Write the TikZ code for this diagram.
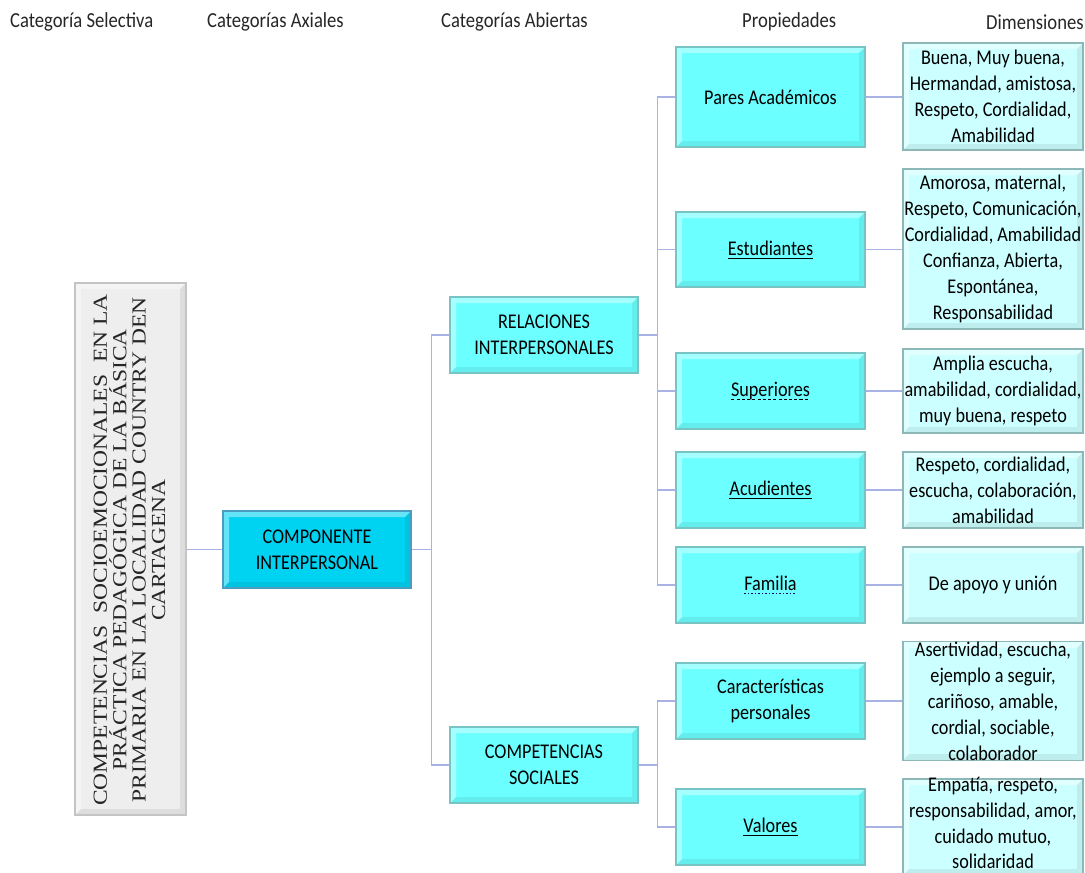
\documentclass[tikz,border=0pt]{standalone}
\usepackage{fontspec}
\newfontfamily\calib[FakeStretch=0.87]{Carlito}
\newfontfamily\tms[FakeStretch=1.18]{Liberation Serif}
\newcommand\myul[1]{\leavevmode\setbox0\hbox{#1}\rlap{\raisebox{-3.5pt}{\rule{\wd0}{0.9pt}}}\box0}
\newcommand\mydashul[1]{\leavevmode\setbox0\hbox{#1}\rlap{\raisebox{-3.5pt}{\hbox to \wd0{\xleaders\hbox to 5pt{\rule{3.2pt}{0.9pt}\hfil}\hfil}}}\box0}
\newcommand\mydotul[1]{\leavevmode\setbox0\hbox{#1}\rlap{\raisebox{-3.5pt}{\hbox to \wd0{\color{blue!50!black}\xleaders\hbox to 3.5pt{\rule{1.6pt}{1pt}\hfil}\hfil}}}\box0}
\definecolor{linec}{HTML}{A8B2E4}
\definecolor{cyanA}{HTML}{6CFFFF}
\definecolor{cyanB}{HTML}{CCFFFF}
\definecolor{compC}{HTML}{00D2F2}
\definecolor{grayC}{HTML}{EEEEEE}
\definecolor{bordA}{HTML}{78C4C4}
\definecolor{bordB}{HTML}{8EB8B8}
\definecolor{bordC}{HTML}{4A9CC0}
\definecolor{bordG}{HTML}{C4C4C4}
\tikzset{
  bev/.style={path picture={
    \fill[white,opacity=.4] (path picture bounding box.south west) -- (path picture bounding box.north west) -- (path picture bounding box.north east) -- ([shift={(-6,6)}]path picture bounding box.north east) -- ([shift={(6,6)}]path picture bounding box.north west) -- ([shift={(6,-6)}]path picture bounding box.south west) -- cycle;
    \fill[black,opacity=.07] (path picture bounding box.south west) -- (path picture bounding box.south east) -- (path picture bounding box.north east) -- ([shift={(-6,6)}]path picture bounding box.north east) -- ([shift={(-6,-6)}]path picture bounding box.south east) -- ([shift={(6,-6)}]path picture bounding box.south west) -- cycle;
  }},
  txt/.style={font=\calib\fontsize{21}{26}\selectfont, text=black, align=center, inner sep=0pt},
  prop/.style={txt, draw=bordA, fill=cyanA, line width=1.2pt, bev, minimum width=189bp, minimum height=76bp},
  dimbox/.style={txt, draw=bordB, fill=cyanB, line width=1.2pt, bev, minimum width=180bp},
  hdr/.style={font=\calib\fontsize{21.5}{26}\selectfont, text=black!85, anchor=west, inner sep=0pt},
  conn/.style={draw=linec, line width=1.5pt}
}
\begin{document}
\begin{tikzpicture}[x=1bp,y=-1bp]
\useasboundingbox (0,0) rectangle (1085,873);
% headers
\node[hdr] (h1) at (10,22) {Categoría Selectiva};
\node[hdr] (h2) at (207,22) {Categorías Axiales};
\node[hdr] (h3) at (441,22) {Categorías Abiertas};
\node[hdr] (h4) at (742,22) {Propiedades};
\node[hdr] (h5) at (986,22) {Dimensiones};
% main boxes
\node[draw=bordG, fill=grayC, line width=1.2pt, bev, minimum width=111bp, minimum height=532bp, inner sep=0pt] (sel) at (130.5,549) {};
\node[font=\tms\fontsize{20}{19.5}\selectfont, text=black!85, align=center, rotate=90, inner sep=0pt] (seltxt) at (129.5,550)
 {COMPETENCIAS\ \ SOCIOEMOCIONALES\ \ EN LA\\PRÁCTICA PEDAGÓGICA DE LA BÁSICA\\PRIMARIA EN LA LOCALIDAD COUNTRY DEN\\CARTAGENA};
\node[txt, draw=bordC, fill=compC, line width=1.2pt, bev, minimum width=188bp, minimum height=77bp] (comp) at (317,549.5) {COMPONENTE\\INTERPERSONAL};
\node[prop, minimum width=188bp] (rel) at (544,335) {RELACIONES\\INTERPERSONALES};
\node[prop, minimum width=188bp] (soc) at (544,765) {COMPETENCIAS\\SOCIALES};
% properties
\node[prop, minimum height=100bp] (pares) at (770.5,97) {Pares Académicos};
\node[prop, minimum height=75bp] (est) at (770.5,249.5) {\myul{Estudiantes}};
\node[prop] (sup) at (770.5,391) {\mydashul{Superiores}};
\node[prop] (acu) at (770.5,490) {\myul{Acudientes}};
\node[prop] (fam) at (770.5,585) {\mydotul{Familia}};
\node[prop] (car) at (770.5,701) {Características\\personales};
\node[prop] (val) at (770.5,827) {\myul{Valores}};
% dimensions
\node[dimbox, minimum height=107bp] (d1) at (993,96.5) {Buena, Muy buena,\\Hermandad, amistosa,\\Respeto, Cordialidad,\\Amabilidad};
\node[dimbox, minimum height=160bp] (d2) at (993,249) {Amorosa, maternal,\\Respeto, Comunicación,\\Cordialidad, Amabilidad\\Confianza, Abierta,\\Espontánea,\\Responsabilidad};
\node[dimbox, minimum height=84bp] (d3) at (993,391) {Amplia escucha,\\amabilidad, cordialidad,\\muy buena, respeto};
\node[dimbox, minimum height=76bp] (d4) at (993,490) {Respeto, cordialidad,\\escucha, colaboración,\\amabilidad};
\node[dimbox, minimum height=76bp] (d5) at (993,585) {De apoyo y unión};
\node[dimbox, minimum height=116bp] (d6) at (993,701) {Asertividad, escucha,\\ejemplo a seguir,\\cariñoso, amable,\\cordial, sociable,\\colaborador};
\node[dimbox, minimum height=96bp] (d7) at (993,827) {};
\node[txt] (d7t) at (993,823) {Empatía, respeto,\\responsabilidad, amor,\\cuidado mutuo,\\solidaridad};
% connectors
\draw[conn] (sel.east |- comp.west) -- (comp.west);
\draw[conn] (comp.east) -- ++(20,0) coordinate (j1) |- (rel.west);
\draw[conn] (j1) |- (soc.west);
\draw[conn] (rel.east) -- ++(19,0) coordinate (j2) |- (pares.west);
\foreach \n in {est,sup,acu,fam} \draw[conn] (j2) |- (\n.west);
\draw[conn] (soc.east) -- ++(19,0) coordinate (j3) |- (car.west);
\draw[conn] (j3) |- (val.west);
\foreach \a/\b in {pares/d1,est/d2,sup/d3,acu/d4,fam/d5,car/d6,val/d7} \draw[conn] (\a.east) -- (\b.west |- \a.east);
\end{tikzpicture}
\end{document}
